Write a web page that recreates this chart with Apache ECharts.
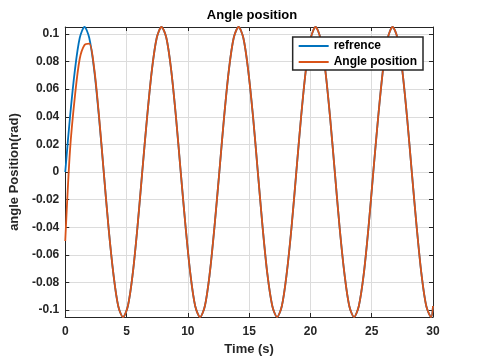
<!DOCTYPE html>
<html>
<head>
<meta charset="utf-8">
<script src="https://cdn.jsdelivr.net/npm/echarts@6/dist/echarts.min.js"></script>
<style>
  html, body { margin: 0; padding: 0; background: #fff; }
  #chart { width: 480px; height: 361px; }
</style>
</head>
<body>
<div id="chart"></div>
<script>
// time samples (s)
const times = [0, 0.39, 0.79, 1.18, 1.57, 1.96, 2.36, 2.75, 3.14, 3.53, 3.93, 4.32, 4.71, 5.11, 5.50, 5.89,
  6.28, 6.68, 7.07, 7.46, 7.85, 8.25, 8.64, 9.03, 9.42, 9.82, 10.21, 10.60, 11.00, 11.39, 11.78, 12.17,
  12.57, 12.96, 13.35, 13.74, 14.14, 14.53, 14.92, 15.32, 15.71, 16.10, 16.49, 16.89, 17.28, 17.67, 18.06, 18.46,
  18.85, 19.24, 19.63, 20.03, 20.42, 20.81, 21.21, 21.60, 21.99, 22.38, 22.78, 23.17, 23.56, 23.95, 24.35, 24.74,
  25.13, 25.53, 25.92, 26.31, 26.70, 27.10, 27.49, 27.88, 28.27, 28.67, 29.06, 29.45, 29.85, 30];

// reference angle (rad)
const refValues = [0, 0.040, 0.074, 0.097, 0.105, 0.097, 0.074, 0.040, 0, -0.040, -0.074, -0.097, -0.105, -0.097, -0.074, -0.040,
  0, 0.040, 0.074, 0.097, 0.105, 0.097, 0.074, 0.040, 0, -0.040, -0.074, -0.097, -0.105, -0.097, -0.074, -0.040,
  0, 0.040, 0.074, 0.097, 0.105, 0.097, 0.074, 0.040, 0, -0.040, -0.074, -0.097, -0.105, -0.097, -0.074, -0.040,
  0, 0.040, 0.074, 0.097, 0.105, 0.097, 0.074, 0.040, 0, -0.040, -0.074, -0.097, -0.105, -0.097, -0.074, -0.040,
  0, 0.040, 0.074, 0.097, 0.105, 0.097, 0.074, 0.040, 0, -0.040, -0.074, -0.097, -0.105, -0.097, -0.074, -0.040,
  0, 0.040, 0.074, 0.097, 0.105, 0.097, 0.074, 0.040, 0, -0.040, -0.074, -0.097, -0.105, -0.104];

// measured angle position (rad)
const angleValues = [-0.050, 0.016, 0.055, 0.082, 0.092, 0.093, 0.075, 0.041, 0, -0.040, -0.074, -0.097, -0.105, -0.097, -0.074, -0.040,
  0, 0.040, 0.074, 0.097, 0.105, 0.097, 0.074, 0.040, 0, -0.040, -0.074, -0.097, -0.105, -0.097, -0.074, -0.040,
  0, 0.040, 0.074, 0.097, 0.105, 0.097, 0.074, 0.040, 0, -0.040, -0.074, -0.097, -0.105, -0.097, -0.074, -0.040,
  0, 0.040, 0.074, 0.097, 0.105, 0.097, 0.074, 0.040, 0, -0.040, -0.074, -0.097, -0.105, -0.097, -0.074, -0.040,
  0, 0.040, 0.074, 0.097, 0.105, 0.097, 0.074, 0.040, 0, -0.040, -0.074, -0.097, -0.105, -0.097, -0.074, -0.040,
  0, 0.040, 0.074, 0.097, 0.105, 0.097, 0.074, 0.040, 0, -0.040, -0.074, -0.097, -0.105, -0.104];

const yTicks = [-0.1, -0.08, -0.06, -0.04, -0.02, 0, 0.02, 0.04, 0.06, 0.08, 0.1];

const font = 'Liberation Sans, Arial, sans-serif';
const textColor = '#262626';

const chart = echarts.init(document.getElementById('chart'));

const toPairs = (vals) => times.map((t, i) => [t, vals[i]]);

const axisLine = { show: true, onZero: false, lineStyle: { color: textColor, width: 1 } };
const gridLine = { show: true, lineStyle: { color: '#dcdcdc', width: 1 } };

chart.setOption({
  animation: false,
  title: {
    text: 'Angle position',
    left: 247, top: 4, textAlign: 'center',
    textStyle: { fontFamily: font, fontSize: 13, fontWeight: 'bold', color: '#000' }
  },
  legend: {
    right: 57, top: 37,
    orient: 'vertical',
    itemWidth: 30, itemHeight: 2, itemGap: 4,
    backgroundColor: '#fff',
    borderColor: textColor, borderWidth: 1.5, borderRadius: 0,
    padding: [3, 6, 2, 6],
    icon: 'rect',
    textStyle: { fontFamily: font, fontSize: 12, fontWeight: 'bold', color: '#000' },
    data: ['refrence', 'Angle position']
  },
  grid: { left: 62, right: 47, top: 27, bottom: 40 },
  xAxis: [{
    type: 'value', min: 0, max: 30, interval: 5,
    name: 'Time (s)', nameLocation: 'middle', nameGap: 26,
    nameTextStyle: { fontFamily: font, fontSize: 13, fontWeight: 'bold', color: textColor },
    axisLine: axisLine,
    axisTick: { inside: true, length: 4, lineStyle: { color: textColor } },
    axisLabel: { fontFamily: font, fontSize: 12, fontWeight: 'bold', color: textColor, margin: 9 },
    splitLine: gridLine
  }, {
    type: 'value', position: 'top', min: 0, max: 30, interval: 5,
    axisLine: axisLine,
    axisTick: { inside: true, length: 4, lineStyle: { color: textColor } },
    axisLabel: { show: false },
    splitLine: { show: false }
  }],
  yAxis: [{
    type: 'value', min: -0.105, max: 0.105,
    name: 'angle Position(rad)', nameLocation: 'middle', nameGap: 38,
    nameTextStyle: { fontFamily: font, fontSize: 13, fontWeight: 'bold', color: textColor },
    axisLine: axisLine,
    axisTick: { inside: true, length: 4, customValues: yTicks, lineStyle: { color: textColor } },
    axisLabel: {
      customValues: yTicks, fontFamily: font, fontSize: 12, fontWeight: 'bold', color: textColor, margin: 6,
      formatter: (v) => String(Math.round(v * 100) / 100)
    },
    splitLine: gridLine
  }, {
    type: 'value', position: 'right', min: -0.105, max: 0.105,
    axisLine: axisLine,
    axisTick: { inside: true, length: 4, customValues: yTicks, lineStyle: { color: textColor } },
    axisLabel: { show: false },
    splitLine: { show: false }
  }],
  series: [{
    name: 'refrence', type: 'line', smooth: 0.3, showSymbol: false,
    lineStyle: { color: '#0072BD', width: 1.8 }, itemStyle: { color: '#0072BD' },
    data: toPairs(refValues)
  }, {
    name: 'Angle position', type: 'line', smooth: 0.3, showSymbol: false,
    lineStyle: { color: '#D95319', width: 1.8 }, itemStyle: { color: '#D95319' },
    data: toPairs(angleValues)
  }]
});
</script>
</body>
</html>
